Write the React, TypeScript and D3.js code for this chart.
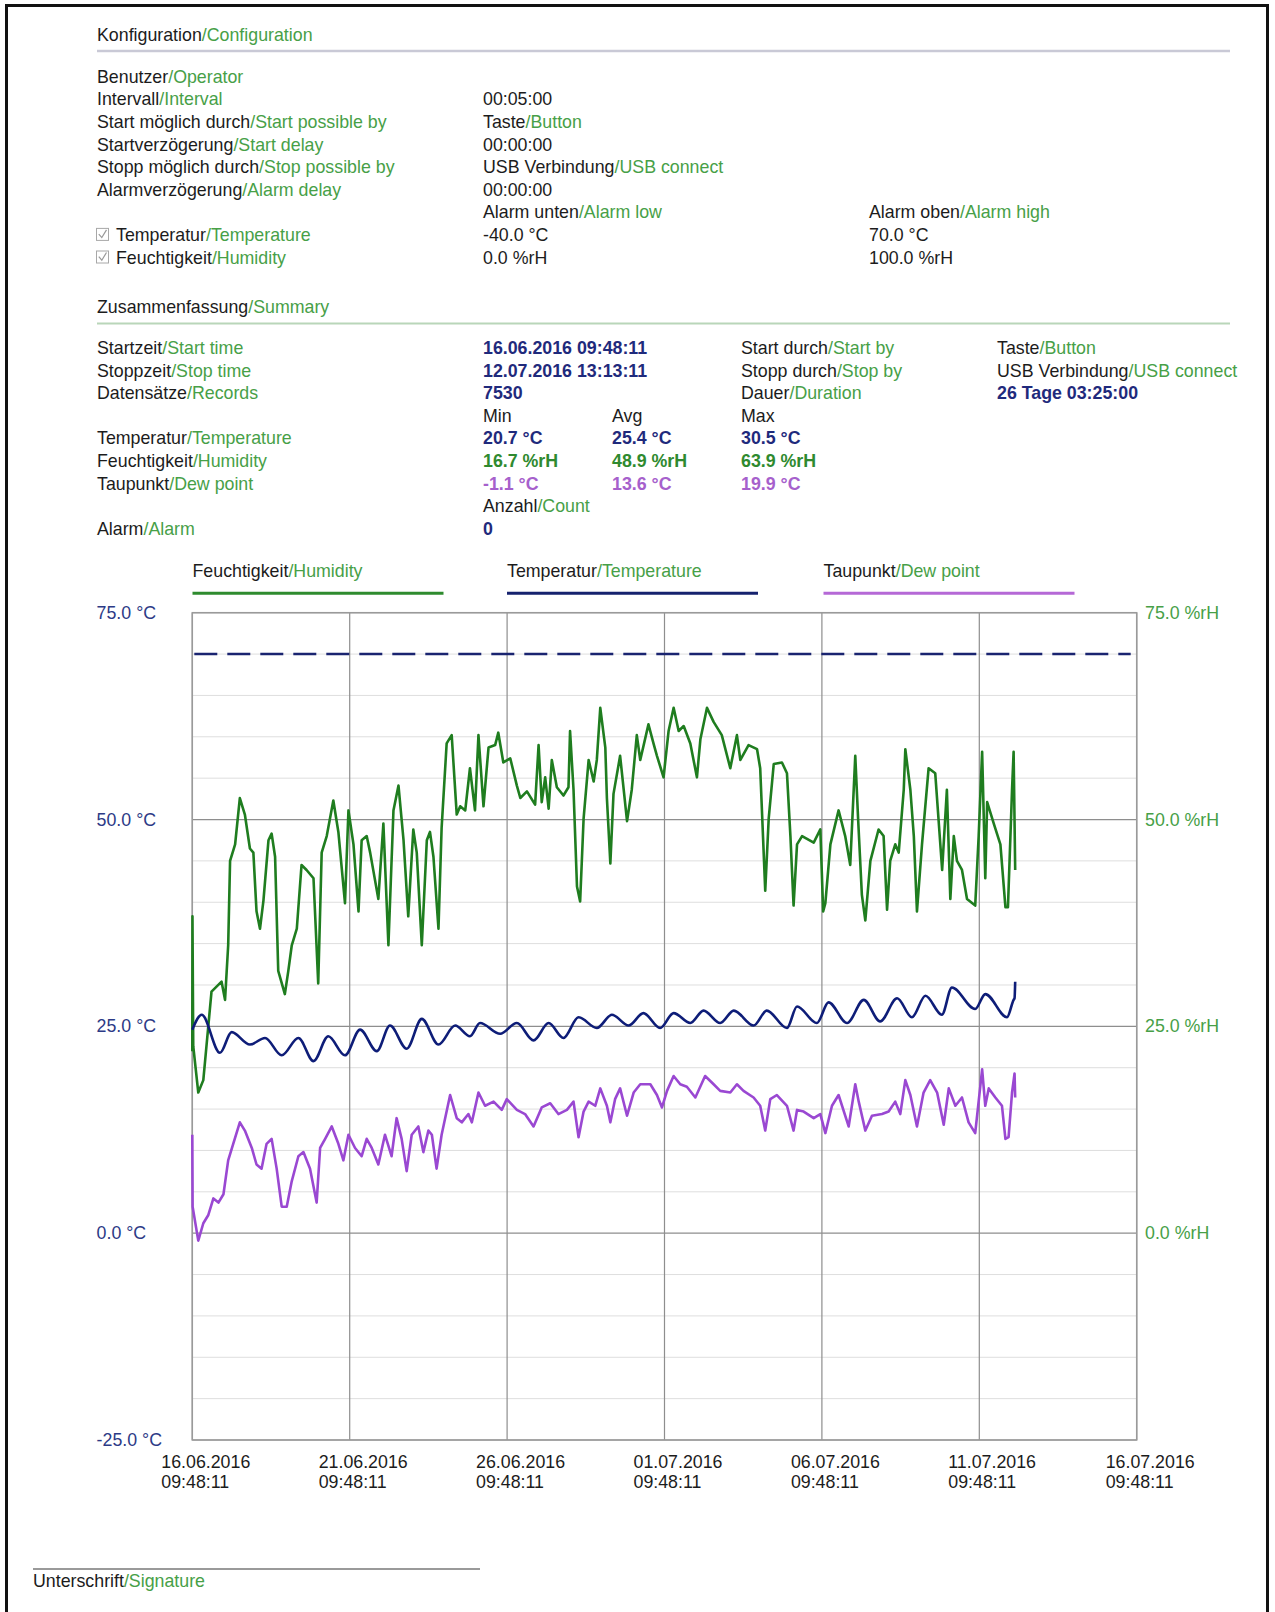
import { curveLinear, curveMonotoneX, line, range, scaleLinear, scaleTime, timeDay, timeFormat } from "d3";

// logger run: 16.06.2016 09:48:11 – 12.07.2016 13:13:11, points are [day offset, value]
const startTime = new Date(2016, 5, 16, 9, 48, 11);
const axisDays = 30;
const xTickDays = [0, 5, 10, 15, 20, 25, 30];
const yDomain: [number, number] = [-25, 75];
const yMajorTicks = [-25, 0, 25, 50, 75];
const yMinorStep = 5;
const alarmHighTemperature = 70;

const temperaturePoints: [number, number][] = [
  [0, 24.6], [0.3, 26.4], [0.88, 21.8], [1.25, 24.3], [1.83, 22.8], [2.31, 23.6], [2.84, 21.5],
  [3.37, 23.6], [3.85, 20.8], [4.32, 23.8], [4.85, 21.5], [5.33, 24.6], [5.86, 22.0], [6.28, 25.1],
  [6.81, 22.3], [7.29, 25.9], [7.82, 22.8], [8.35, 25.1], [8.82, 23.8], [9.14, 25.4], [9.78, 24.1],
  [10.31, 25.4], [10.84, 23.3], [11.32, 25.4], [11.79, 23.6], [12.27, 26.1], [12.85, 24.8],
  [13.33, 26.4], [13.86, 25.1], [14.33, 26.6], [14.86, 24.8], [15.29, 26.6], [15.82, 25.4],
  [16.24, 26.9], [16.77, 25.4], [17.2, 26.9], [17.83, 25.1], [18.25, 26.9], [18.89, 24.8],
  [19.21, 27.4], [19.84, 25.4], [20.21, 27.9], [20.8, 25.4], [21.33, 28.2], [21.85, 25.6],
  [22.39, 28.4], [22.86, 26.1], [23.29, 28.7], [23.81, 26.4], [24.13, 29.7], [24.87, 27.1],
  [25.19, 28.9], [25.88, 26.1], [26.09, 28.2], [26.12, 28.4], [26.14, 30.4]
];

const humidityPoints: [number, number][] = [
  [0, 22.0], [0.005, 38.3], [0.03, 22.6], [0.19, 17.0], [0.35, 18.5], [0.61, 29.2], [0.93, 30.4],
  [1.04, 28.2], [1.14, 34.8], [1.2, 45.0], [1.36, 47.0], [1.51, 52.6], [1.67, 50.6], [1.83, 46.5],
  [1.94, 46.0], [2.04, 38.9], [2.15, 36.8], [2.26, 40.2], [2.42, 47.5], [2.52, 48.3], [2.63, 45.5],
  [2.73, 31.7], [2.94, 28.9], [3.05, 31.7], [3.16, 34.8], [3.32, 36.8], [3.47, 44.5], [3.63, 43.9],
  [3.85, 42.9], [4.0, 30.2], [4.11, 46.0], [4.27, 48.0], [4.48, 52.3], [4.64, 48.5], [4.85, 39.9],
  [4.96, 51.1], [5.12, 47.0], [5.28, 38.9], [5.38, 47.5], [5.54, 48.0], [5.65, 46.0], [5.91, 40.4],
  [6.07, 49.5], [6.23, 34.8], [6.39, 51.1], [6.55, 54.1], [6.71, 47.5], [6.86, 38.3], [7.02, 48.8],
  [7.13, 46.0], [7.29, 34.8], [7.45, 47.5], [7.55, 48.5], [7.66, 45.5], [7.82, 36.8], [7.92, 49.0],
  [8.08, 59.2], [8.24, 60.2], [8.4, 50.6], [8.51, 51.6], [8.67, 51.1], [8.82, 56.2], [8.98, 51.1],
  [9.09, 60.2], [9.25, 51.6], [9.41, 58.7], [9.62, 59.0], [9.72, 60.5], [9.88, 56.9], [10.1, 57.4],
  [10.31, 54.1], [10.42, 52.6], [10.63, 53.4], [10.89, 51.8], [11.0, 59.0], [11.1, 52.1],
  [11.21, 55.1], [11.32, 51.3], [11.42, 57.2], [11.58, 53.9], [11.79, 52.9], [11.95, 53.9],
  [12.0, 60.7], [12.11, 53.6], [12.22, 41.9], [12.32, 40.1], [12.43, 50.1], [12.59, 57.2],
  [12.75, 54.6], [12.85, 57.2], [12.96, 63.5], [13.12, 58.7], [13.17, 52.6], [13.28, 44.7],
  [13.38, 53.1], [13.59, 57.7], [13.81, 49.8], [13.96, 53.6], [14.12, 60.2], [14.23, 57.2],
  [14.49, 61.5], [14.65, 59.2], [14.76, 57.7], [14.97, 55.1], [15.13, 60.7], [15.29, 63.5],
  [15.45, 60.7], [15.61, 61.3], [15.82, 59.2], [16.03, 55.1], [16.14, 59.7], [16.35, 63.5],
  [16.56, 61.8], [16.82, 60.2], [17.09, 56.2], [17.3, 60.2], [17.41, 57.2], [17.67, 59.0],
  [17.94, 58.5], [18.04, 56.2], [18.2, 41.4], [18.31, 50.1], [18.47, 56.7], [18.73, 56.9],
  [18.89, 55.6], [19.0, 48.0], [19.1, 39.6], [19.21, 47.0], [19.37, 48.0], [19.74, 47.2],
  [19.95, 48.8], [20.04, 38.9], [20.11, 39.9], [20.27, 47.0], [20.53, 51.1], [20.74, 48.0],
  [20.9, 44.5], [21.06, 57.7], [21.15, 50.1], [21.27, 40.9], [21.38, 37.8], [21.54, 45.0],
  [21.8, 48.8], [21.96, 48.0], [22.07, 39.1], [22.17, 45.0], [22.33, 47.0], [22.44, 46.0],
  [22.6, 53.6], [22.65, 58.5], [22.81, 53.6], [22.92, 48.0], [23.02, 38.9], [23.18, 47.0],
  [23.39, 56.2], [23.6, 55.6], [23.82, 43.9], [23.97, 53.6], [24.08, 40.4], [24.19, 48.0],
  [24.29, 45.0], [24.45, 43.9], [24.61, 40.4], [24.87, 39.6], [24.98, 48.0], [25.09, 58.2],
  [25.19, 42.9], [25.25, 52.1], [25.46, 49.5], [25.67, 47.0], [25.83, 39.4], [25.91, 39.4],
  [26.04, 53.6], [26.09, 58.2], [26.14, 43.9]
];

const dewPointPoints: [number, number][] = [
  [0, 11.9], [0.01, 3.2], [0.19, -0.9], [0.35, 1.2], [0.51, 2.2], [0.67, 4.2], [0.83, 3.7],
  [0.99, 4.7], [1.14, 8.8], [1.3, 10.8], [1.51, 13.4], [1.67, 12.4], [1.89, 10.3], [2.04, 8.3],
  [2.2, 7.8], [2.36, 10.8], [2.52, 11.4], [2.68, 7.8], [2.84, 3.2], [3.0, 3.2], [3.16, 6.3],
  [3.37, 9.3], [3.53, 9.8], [3.74, 7.8], [3.95, 3.7], [4.06, 10.3], [4.22, 11.4], [4.43, 12.9],
  [4.64, 10.8], [4.8, 8.8], [4.96, 11.9], [5.17, 10.3], [5.38, 9.3], [5.54, 11.4], [5.7, 10.3],
  [5.91, 8.3], [6.12, 11.9], [6.33, 9.3], [6.49, 13.9], [6.65, 11.4], [6.81, 7.5], [6.97, 11.9],
  [7.18, 12.9], [7.34, 9.8], [7.5, 12.4], [7.61, 11.9], [7.76, 7.8], [7.92, 11.9], [8.19, 16.7],
  [8.4, 13.9], [8.56, 13.4], [8.77, 14.4], [8.88, 13.4], [9.09, 17.0], [9.3, 15.4], [9.57, 15.9],
  [9.83, 14.9], [9.99, 16.2], [10.31, 14.9], [10.57, 14.4], [10.84, 12.9], [11.1, 15.2],
  [11.37, 15.7], [11.63, 14.4], [11.9, 14.9], [12.11, 15.9], [12.27, 11.6], [12.43, 14.7],
  [12.59, 15.9], [12.8, 15.4], [12.96, 17.5], [13.17, 15.4], [13.28, 13.4], [13.43, 16.2],
  [13.59, 17.5], [13.81, 14.2], [14.02, 17.0], [14.23, 18.0], [14.55, 18.0], [14.76, 16.7],
  [14.92, 15.2], [15.08, 17.2], [15.29, 19.0], [15.5, 18.0], [15.71, 17.7], [15.98, 16.4],
  [16.29, 19.0], [16.56, 18.0], [16.77, 17.2], [17.09, 17.0], [17.3, 18.0], [17.51, 17.2],
  [17.83, 16.4], [18.04, 15.4], [18.2, 12.4], [18.36, 16.2], [18.57, 16.7], [18.89, 15.4],
  [19.1, 12.4], [19.21, 14.9], [19.42, 14.7], [19.74, 13.9], [19.95, 14.4], [20.11, 12.1],
  [20.32, 15.4], [20.53, 16.7], [20.85, 12.9], [21.06, 18.0], [21.17, 15.9], [21.38, 12.4],
  [21.59, 14.2], [21.91, 14.4], [22.12, 14.7], [22.33, 15.9], [22.49, 14.4], [22.65, 18.5],
  [22.81, 16.7], [23.02, 12.9], [23.23, 17.0], [23.44, 18.5], [23.66, 17.0], [23.87, 13.1],
  [24.03, 17.5], [24.24, 15.4], [24.45, 16.4], [24.66, 13.4], [24.87, 12.1], [25.09, 19.8],
  [25.19, 15.4], [25.3, 17.5], [25.51, 16.4], [25.72, 15.4], [25.83, 11.4], [25.93, 11.6],
  [26.04, 17.0], [26.12, 19.3], [26.14, 16.4]
];

// header texts: [german, english] pairs
const configRows = [
  { label: ["Benutzer", "Operator"] },
  { label: ["Intervall", "Interval"], value: ["00:05:00"] },
  { label: ["Start möglich durch", "Start possible by"], value: ["Taste", "Button"] },
  { label: ["Startverzögerung", "Start delay"], value: ["00:00:00"] },
  { label: ["Stopp möglich durch", "Stop possible by"], value: ["USB Verbindung", "USB connect"] },
  { label: ["Alarmverzögerung", "Alarm delay"], value: ["00:00:00"] },
  { value: ["Alarm unten", "Alarm low"], high: ["Alarm oben", "Alarm high"] },
  { label: ["Temperatur", "Temperature"], check: true, value: ["-40.0 °C"], high: ["70.0 °C"] },
  { label: ["Feuchtigkeit", "Humidity"], check: true, value: ["0.0 %rH"], high: ["100.0 %rH"] }
];

const NAVY = "#1f2a7c";
const GREEN_BOLD = "#2f8a2f";
const PURPLE = "#a660cc";

const summaryRows = [
  { label: ["Startzeit", "Start time"], cells: [{ t: "16.06.2016 09:48:11", c: NAVY }], by: ["Start durch", "Start by"], byValue: ["Taste", "Button"] },
  { label: ["Stoppzeit", "Stop time"], cells: [{ t: "12.07.2016 13:13:11", c: NAVY }], by: ["Stopp durch", "Stop by"], byValue: ["USB Verbindung", "USB connect"] },
  { label: ["Datensätze", "Records"], cells: [{ t: "7530", c: NAVY }], by: ["Dauer", "Duration"], byBold: "26 Tage 03:25:00" },
  { header: ["Min", "Avg", "Max"] },
  { label: ["Temperatur", "Temperature"], cells: [{ t: "20.7 °C", c: NAVY }, { t: "25.4 °C", c: NAVY }, { t: "30.5 °C", c: NAVY }] },
  { label: ["Feuchtigkeit", "Humidity"], cells: [{ t: "16.7 %rH", c: GREEN_BOLD }, { t: "48.9 %rH", c: GREEN_BOLD }, { t: "63.9 %rH", c: GREEN_BOLD }] },
  { label: ["Taupunkt", "Dew point"], cells: [{ t: "-1.1 °C", c: PURPLE }, { t: "13.6 °C", c: PURPLE }, { t: "19.9 °C", c: PURPLE }] },
  { countHeader: ["Anzahl", "Count"] },
  { label: ["Alarm", "Alarm"], cells: [{ t: "0", c: NAVY }] }
];

const legendItems = [
  { de: "Feuchtigkeit", en: "Humidity", color: "#2e8b2e" },
  { de: "Temperatur", en: "Temperature", color: "#16226e" },
  { de: "Taupunkt", en: "Dew point", color: "#b568d6" }
];

const FONT = "'Liberation Sans', Arial, Helvetica, sans-serif";
const INK = "#1c1c1c";
const GREEN_TEXT = "#47a047";

function Pair({ x, y, parts }: { x: number; y: number; parts?: string[] }) {
  if (!parts) return null;
  return (
    <text x={x} y={y}>
      <tspan fill={INK}>{parts[0]}</tspan>
      {parts[1] ? <tspan fill={GREEN_TEXT}>/{parts[1]}</tspan> : null}
    </text>
  );
}

export default function App() {
  const width = 1275;
  const height = 1612;
  const plot = { left: 192.3, right: 1136.7, top: 612.7, bottom: 1440 };

  const x = scaleTime()
    .domain([startTime, timeDay.offset(startTime, axisDays)])
    .range([plot.left, plot.right]);
  const y = scaleLinear().domain(yDomain).range([plot.bottom, plot.top]);
  const at = (day: number) => new Date(startTime.getTime() + day * 864e5);

  const smoothPath = line<[number, number]>()
    .x((d) => x(at(d[0])))
    .y((d) => y(d[1]))
    .curve(curveMonotoneX);
  const rawPath = line<[number, number]>()
    .x((d) => x(at(d[0])))
    .y((d) => y(d[1]))
    .curve(curveLinear);

  const fmtDate = timeFormat("%d.%m.%Y");
  const fmtTime = timeFormat("%H:%M:%S");
  const xTicks = xTickDays.map((d) => timeDay.offset(startTime, d));
  const minorTicks = range(yDomain[0], yDomain[1] + 1, yMinorStep).filter((t) => !yMajorTicks.includes(t));

  const cfgY0 = 82.7;
  const sumY0 = 354;
  const rowH = 22.6;
  const colValue = 483;
  const colAvg = 612;
  const colMax = 741;
  const colFar = 997;

  return (
    <svg
      width={width}
      height={height}
      viewBox={`0 0 ${width} ${height}`}
      style={{ position: "absolute", left: 0, top: 0, background: "#fff" }}
      fontFamily={FONT}
      fontSize={17.8}
    >
      <rect width={width} height={height} fill="#fff" />
      <path d={`M6.5 ${height + 5} V5.5 H1267.5 V${height + 5}`} fill="none" stroke="#111" strokeWidth={3} />

      {/* configuration block */}
      <Pair x={97} y={40.7} parts={["Konfiguration", "Configuration"]} />
      <line x1={97} x2={1230} y1={51} y2={51} stroke="#c9c9d6" strokeWidth={2.5} />
      {configRows.map((row, i) => {
        const ry = cfgY0 + i * rowH;
        return (
          <g key={i}>
            {row.check ? (
              <g>
                <rect x={96.5} y={ry - 12.5} width={12} height={12} fill="#fff" stroke="#a8a8a8" strokeWidth={1} />
                <path d={`M98.8 ${ry - 6.8} L101.8 ${ry - 3.3} L106.5 ${ry - 11}`} fill="none" stroke="#9a9a9a" strokeWidth={1.2} />
              </g>
            ) : null}
            <Pair x={row.check ? 116 : 97} y={ry} parts={row.label} />
            <Pair x={colValue} y={ry} parts={row.value} />
            <Pair x={869} y={ry} parts={row.high} />
          </g>
        );
      })}

      {/* summary block */}
      <Pair x={97} y={313.3} parts={["Zusammenfassung", "Summary"]} />
      <line x1={97} x2={1230} y1={323.5} y2={323.5} stroke="#b9d6b9" strokeWidth={2} />
      {summaryRows.map((row, i) => {
        const ry = sumY0 + i * rowH;
        const cols = [colValue, colAvg, colMax];
        return (
          <g key={i}>
            <Pair x={97} y={ry} parts={row.label} />
            {row.cells?.map((cell, j) => (
              <text key={j} x={cols[j]} y={ry} fill={cell.c} fontWeight="bold">
                {cell.t}
              </text>
            ))}
            {row.header?.map((h, j) => (
              <text key={j} x={cols[j]} y={ry} fill={INK}>
                {h}
              </text>
            ))}
            <Pair x={colValue} y={ry} parts={row.countHeader} />
            <Pair x={colMax} y={ry} parts={row.by} />
            <Pair x={colFar} y={ry} parts={row.byValue} />
            {row.byBold ? (
              <text x={colFar} y={ry} fill={NAVY} fontWeight="bold">
                {row.byBold}
              </text>
            ) : null}
          </g>
        );
      })}

      {/* legend */}
      {legendItems.map((item, i) => {
        const lx = [192.5, 507, 823.5][i];
        return (
          <g key={item.de}>
            <Pair x={lx} y={577.3} parts={[item.de, item.en]} />
            <line x1={lx} x2={lx + 251} y1={593.3} y2={593.3} stroke={item.color} strokeWidth={3} />
          </g>
        );
      })}

      {/* grid */}
      {minorTicks.map((t) => (
        <line key={`m${t}`} x1={plot.left} x2={plot.right} y1={y(t)} y2={y(t)} stroke="#dedede" strokeWidth={1} />
      ))}
      {yMajorTicks.map((t) => (
        <line key={`M${t}`} x1={plot.left} x2={plot.right} y1={y(t)} y2={y(t)} stroke="#8e8e8e" strokeWidth={1.2} />
      ))}
      {xTicks.map((t, i) => (
        <line key={`v${i}`} x1={x(t)} x2={x(t)} y1={plot.top} y2={plot.bottom} stroke="#8e8e8e" strokeWidth={1.2} />
      ))}
      <rect
        x={plot.left}
        y={plot.top}
        width={plot.right - plot.left}
        height={plot.bottom - plot.top}
        fill="none"
        stroke="#9a9a9a"
        strokeWidth={1.5}
      />

      {/* alarm high temperature */}
      <line
        x1={plot.left + 2}
        x2={plot.right - 6}
        y1={y(alarmHighTemperature)}
        y2={y(alarmHighTemperature)}
        stroke="#1a2470"
        strokeWidth={2.6}
        strokeDasharray="23 10"
      />

      {/* series */}
      <path d={rawPath(humidityPoints) ?? ""} fill="none" stroke="#1f7d1f" strokeWidth={2.6} strokeLinejoin="round" />
      <path d={rawPath(dewPointPoints) ?? ""} fill="none" stroke="#9a48d2" strokeWidth={2.6} strokeLinejoin="round" />
      <path d={smoothPath(temperaturePoints) ?? ""} fill="none" stroke="#0e1d78" strokeWidth={2.6} strokeLinejoin="round" />

      {/* axes labels */}
      {yMajorTicks.map((t) => (
        <g key={`l${t}`}>
          <text x={96.6} y={y(t) + 6} fill="#2c3a86">
            {`${t.toFixed(1)} °C`}
          </text>
          {t >= 0 ? (
            <text x={1145} y={y(t) + 6} fill={GREEN_TEXT}>
              {`${t.toFixed(1)} %rH`}
            </text>
          ) : null}
        </g>
      ))}
      {xTicks.map((t, i) => (
        <g key={`xl${i}`} fill={INK}>
          <text x={x(t) - 31} y={1467.6}>
            {fmtDate(t)}
          </text>
          <text x={x(t) - 31} y={1488}>
            {fmtTime(t)}
          </text>
        </g>
      ))}

      {/* signature */}
      <line x1={33} x2={480} y1={1569} y2={1569} stroke="#9a9a9a" strokeWidth={2} />
      <Pair x={33} y={1587} parts={["Unterschrift", "Signature"]} />
    </svg>
  );
}
